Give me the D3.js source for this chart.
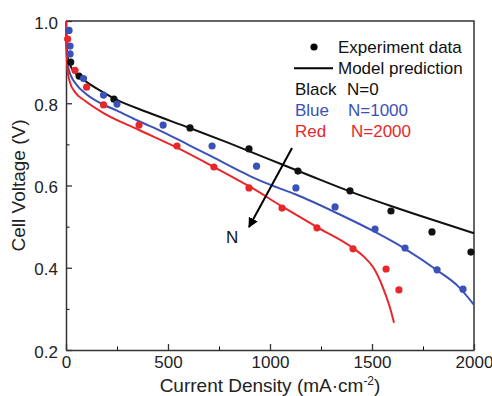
<!DOCTYPE html>
<html>
<head>
<meta charset="utf-8">
<script src="https://cdn.jsdelivr.net/npm/d3@7"></script>
<style>
  body { margin: 0; background: #fff; }
  svg text { font-family: "Liberation Sans", Arial, sans-serif; }
</style>
</head>
<body>
<svg id="chart"></svg>
<script>
// experiment points [current density, voltage]
var expBlack = [[23,0.90],[64,0.866],[235,0.81],[608,0.74],[897,0.689],[1137,0.635],[1392,0.587],[1593,0.538],[1794,0.487],[1985,0.438]];
var expBlue = [[15,0.977],[20,0.939],[20,0.92],[86,0.86],[184,0.82],[250,0.798],[476,0.747],[716,0.696],[934,0.647],[1127,0.594],[1319,0.548],[1515,0.494],[1662,0.448],[1819,0.395],[1946,0.348]];
var expRed = [[8,0.956],[44,0.88],[101,0.839],[184,0.796],[358,0.747],[544,0.696],[725,0.645],[897,0.594],[1059,0.545],[1230,0.497],[1407,0.446],[1569,0.397],[1632,0.346]];

// model curves
var modelBlack = [[0,1.0],[2,0.955],[5,0.928],[10,0.908],[25,0.888],[50,0.871],[100,0.852],[170,0.83],[250,0.808],[400,0.778],[600,0.741],[800,0.703],[1000,0.663],[1200,0.623],[1400,0.584],[1600,0.549],[1800,0.516],[2000,0.484]];
var modelBlue = [[0,1.0],[2,0.95],[5,0.912],[10,0.89],[25,0.866],[50,0.846],[100,0.822],[170,0.8],[250,0.782],[350,0.758],[476,0.73],[600,0.699],[716,0.67],[853,0.635],[902,0.623],[1000,0.602],[1127,0.578],[1319,0.535],[1515,0.487],[1662,0.446],[1819,0.394],[1920,0.356],[2000,0.31]];
var modelRed = [[0,1.0],[2,0.94],[5,0.9],[10,0.872],[20,0.85],[44,0.827],[93,0.806],[184,0.776],[358,0.735],[544,0.692],[725,0.645],[902,0.597],[1059,0.549],[1230,0.499],[1407,0.448],[1460,0.427],[1506,0.401],[1555,0.35],[1585,0.308],[1608,0.266]];

var xTicks = [0, 500, 1000, 1500, 2000];
var xMinor = [250, 750, 1250, 1750];
var yTicks = [0.2, 0.4, 0.6, 0.8, 1.0];
var yMinor = [0.3, 0.5, 0.7, 0.9];

var legendRows = [
  { name: "Black", label: "N=0", color: "#111111" },
  { name: "Blue", label: "N=1000", color: "#3a52b8" },
  { name: "Red", label: "N=2000", color: "#e8272a" }
];

var W = 492, H = 396;
var margin = { top: 21, right: 18, bottom: 46, left: 66 },
  width = W - margin.left - margin.right,
  height = H - margin.top - margin.bottom;

var x = d3.scaleLinear().domain([0, 2000]).range([0, width]);
var y = d3.scaleLinear().domain([0.2, 1.0]).range([height, 0]);

var svg = d3.select("#chart").attr("width", W).attr("height", H)
  .append("g").attr("transform", "translate(" + margin.left + "," + margin.top + ")");

// frame top and right
svg.append("path")
  .attr("d", "M0,0H" + width + "V" + height)
  .attr("fill", "none").attr("stroke", "#333").attr("stroke-width", 1.5);

// minor ticks
svg.append("g").attr("transform", "translate(0," + height + ")")
  .call(d3.axisBottom(x).tickValues(xMinor).tickSize(-3.5).tickFormat(""))
  .call(g => g.select(".domain").remove());
svg.append("g")
  .call(d3.axisLeft(y).tickValues(yMinor).tickSize(-3.5).tickFormat(""))
  .call(g => g.select(".domain").remove());

var xAxis = svg.append("g").attr("transform", "translate(0," + height + ")")
  .call(d3.axisBottom(x).tickValues(xTicks).tickSize(-6).tickPadding(6).tickSizeOuter(0).tickFormat(d3.format("d")));
var yAxis = svg.append("g")
  .call(d3.axisLeft(y).tickValues(yTicks).tickSize(-6).tickPadding(8).tickSizeOuter(0).tickFormat(d3.format(".1f")));

[xAxis, yAxis].forEach(function (a) {
  a.selectAll("text").style("font-size", "17px").attr("fill", "#222")
    .style("font-family", '"Liberation Sans", Arial, sans-serif');
  a.select(".domain").attr("stroke", "#333").attr("stroke-width", 1.5);
  a.selectAll(".tick line").attr("stroke", "#333").attr("stroke-width", 1.3);
});
yAxis.selectAll("text").attr("dy", "0.42em");

// axis titles
var xt = svg.append("text")
  .attr("x", width / 2).attr("y", height + 42)
  .attr("text-anchor", "middle").style("font-size", "19px").attr("fill", "#222");
xt.append("tspan").text("Current Density (mA\u00B7cm");
xt.append("tspan").attr("dy", -7).style("font-size", "12px").text("-2");
xt.append("tspan").attr("dy", 7).text(")");

svg.append("text")
  .attr("transform", "rotate(-90)")
  .attr("x", -height / 2).attr("y", 25 - margin.left)
  .attr("text-anchor", "middle").style("font-size", "19px").attr("fill", "#222")
  .text("Cell Voltage (V)");

// model lines
var line = d3.line().x(d => x(d[0])).y(d => y(d[1])).curve(d3.curveMonotoneX);
var models = [modelBlack, modelBlue, modelRed];
var exps = [expBlack, expBlue, expRed];

models.forEach(function (m, i) {
  svg.append("path").datum(m)
    .attr("d", line)
    .attr("fill", "none")
    .attr("stroke", legendRows[i].color)
    .attr("stroke-width", 2);
});

exps.forEach(function (e, i) {
  svg.append("g").selectAll("circle").data(e).enter().append("circle")
    .attr("cx", d => x(d[0]))
    .attr("cy", d => y(d[1]))
    .attr("r", 3.6)
    .attr("fill", legendRows[i].color);
});

// arrow showing increasing N
svg.append("defs").append("marker")
  .attr("id", "head").attr("viewBox", "0 0 10 10")
  .attr("refX", 9).attr("refY", 5)
  .attr("markerWidth", 5).attr("markerHeight", 5)
  .attr("orient", "auto")
  .append("path").attr("d", "M0,0L10,5L0,10z").attr("fill", "#000");

svg.append("line")
  .attr("x1", x(1108)).attr("y1", y(0.691))
  .attr("x2", x(897)).attr("y2", y(0.499))
  .attr("stroke", "#000").attr("stroke-width", 2)
  .attr("marker-end", "url(#head)");

svg.append("text")
  .attr("x", x(814)).attr("y", y(0.46))
  .attr("text-anchor", "middle").style("font-size", "17px").attr("fill", "#111")
  .text("N");

// legend (absolute positions relative to the svg)
var lg = d3.select("#chart").append("g");
lg.append("circle").attr("cx", 314).attr("cy", 47).attr("r", 3.6).attr("fill", "#000");
lg.append("text").attr("x", 338).attr("y", 52.5).style("font-size", "17px").attr("fill", "#111").text("Experiment data");
lg.append("line").attr("x1", 294).attr("x2", 333).attr("y1", 68.3).attr("y2", 68.3).attr("stroke", "#000").attr("stroke-width", 2);
lg.append("text").attr("x", 338).attr("y", 73.5).style("font-size", "17px").attr("fill", "#111").text("Model prediction");

var rowY = [95, 116, 136.5];
var labX = [347, 348, 351];
legendRows.forEach(function (r, i) {
  lg.append("text").attr("x", 295).attr("y", rowY[i]).style("font-size", "17px").attr("fill", r.color).text(r.name);
  lg.append("text").attr("x", labX[i]).attr("y", rowY[i]).style("font-size", "17px").attr("fill", r.color).text(r.label);
});
</script>
</body>
</html>
